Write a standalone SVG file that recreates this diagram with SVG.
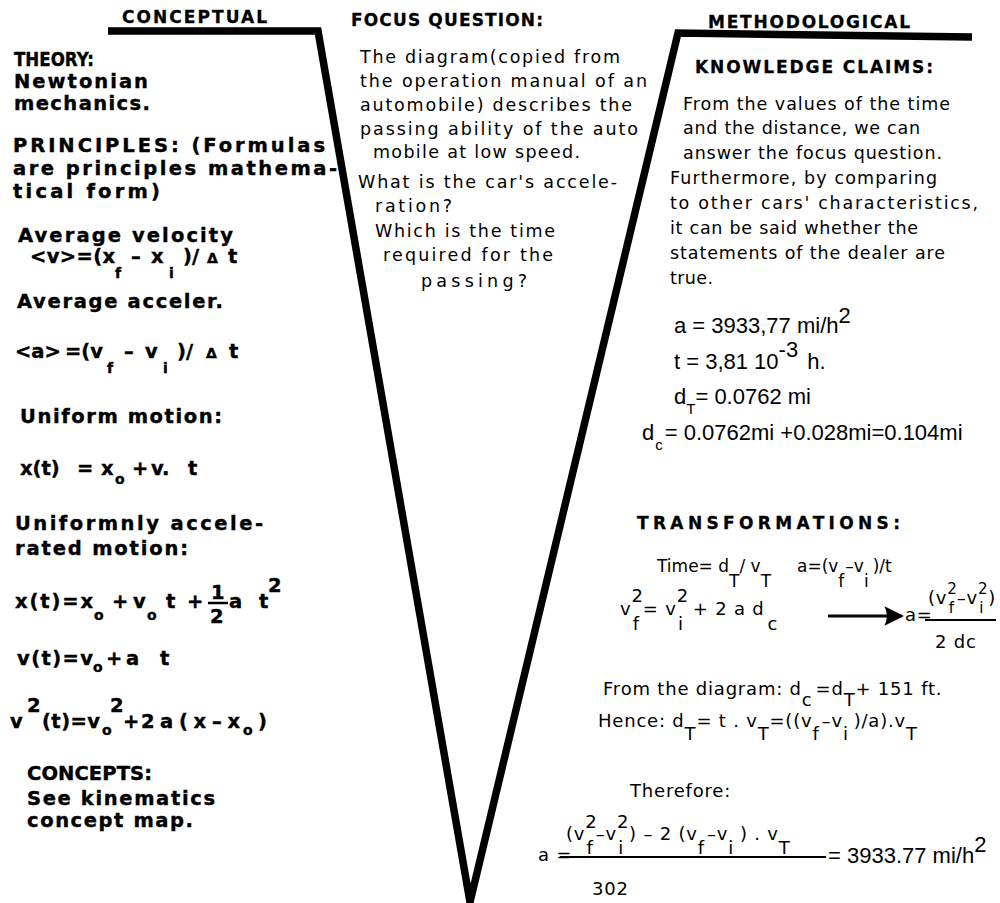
<svg xmlns="http://www.w3.org/2000/svg" width="1000" height="903" viewBox="0 0 1000 903">
<style>
.hd{font-family:"DejaVu Sans",sans-serif;font-weight:bold;font-size:17px;fill:#000;stroke:#000;stroke-width:0.3}
.b{font-family:"DejaVu Sans",sans-serif;font-weight:bold;font-size:19.5px;fill:#000;stroke:#000;stroke-width:0.4}
.bs{font-size:14px}
.r{font-family:"DejaVu Sans",sans-serif;font-size:17.5px;fill:#000}
.f{font-family:"Liberation Sans",Arial,sans-serif;font-size:22px;fill:#000}
.fs{font-size:15px}
.g{font-family:"DejaVu Sans",sans-serif;font-size:18px;letter-spacing:0.8px;fill:#000}
.gt{font-family:"DejaVu Sans",sans-serif;font-size:17px;fill:#000}
.gs{font-size:15px}
.vee{fill:none;stroke:#000;stroke-width:7.5;stroke-linejoin:miter;stroke-miterlimit:20}
.ln{stroke:#000;stroke-width:2}
</style>
<defs>
<marker id="ah" viewBox="0 0 10 10" refX="9" refY="5" markerWidth="9" markerHeight="6.5" markerUnits="strokeWidth" orient="auto">
<path d="M0,0 L10,5 L0,10 Q2.5,5 0,0 Z" fill="#000"/>
</marker>
</defs>

<g id="vee-frame">
<path class="vee" d="M108,31 L318,31 L470,902 L678,33 L972,37"/>
</g>

<g id="headers">
<text class="hd" x="122" y="23" textLength="145" lengthAdjust="spacing">CONCEPTUAL</text>
<text class="hd" x="351" y="26" textLength="192" lengthAdjust="spacing">FOCUS QUESTION:</text>
<text class="hd" x="708" y="28" textLength="202" lengthAdjust="spacing">METHODOLOGICAL</text>
</g>

<g id="conceptual">
<text class="b" x="14" y="66" textLength="80" lengthAdjust="spacingAndGlyphs">THEORY:</text>
<text class="b" x="14" y="88" textLength="134" lengthAdjust="spacing">Newtonian</text>
<text class="b" x="14" y="110" textLength="136" lengthAdjust="spacing">mechanics.</text>
<text class="b" x="13" y="152" textLength="312" lengthAdjust="spacing">PRINCIPLES: (Formulas</text>
<text class="b" x="13" y="175" textLength="324" lengthAdjust="spacing">are principles mathema-</text>
<text class="b" x="13" y="198" textLength="147" lengthAdjust="spacing">tical form)</text>
<text class="b" x="18" y="242" textLength="215" lengthAdjust="spacing">Average velocity</text>
<text class="b" y="263"><tspan x="30" textLength="85" lengthAdjust="spacing">&lt;v&gt;=(x</tspan><tspan class="bs" x="115" y="278">f</tspan><tspan x="131" y="263">–</tspan><tspan x="151">x</tspan><tspan class="bs" x="169" y="278">i</tspan><tspan x="183" y="263">)/</tspan><tspan class="bs" x="207">Δ</tspan><tspan x="228">t</tspan></text>
<text class="b" x="17" y="308" textLength="206" lengthAdjust="spacing">Average acceler.</text>
<text class="b" y="358"><tspan x="15">&lt;a&gt;</tspan><tspan x="65">=(v</tspan><tspan class="bs" x="107" y="373">f</tspan><tspan x="124" y="358">–</tspan><tspan x="145">v</tspan><tspan class="bs" x="163" y="373">i</tspan><tspan x="177" y="358">)/</tspan><tspan class="bs" x="206">Δ</tspan><tspan x="229">t</tspan></text>
<text class="b" x="20" y="423" textLength="202" lengthAdjust="spacing">Uniform motion:</text>
<text class="b" y="475"><tspan x="20">x(t)</tspan><tspan x="77">=</tspan><tspan x="101">x</tspan><tspan class="bs" x="115" y="484">o</tspan><tspan x="132" y="475">+</tspan><tspan x="151">v.</tspan><tspan x="188">t</tspan></text>
<text class="b" x="15" y="530" textLength="248" lengthAdjust="spacing">Uniformnly  accele-</text>
<text class="b" x="15" y="555" textLength="173" lengthAdjust="spacing">rated motion:</text>
<text class="b" y="608"><tspan x="15" textLength="78" lengthAdjust="spacing">x(t)=x</tspan><tspan class="bs" x="94" y="620">o</tspan><tspan x="112" y="608">+</tspan><tspan x="133">v</tspan><tspan class="bs" x="147" y="620">o</tspan><tspan x="166" y="608">t</tspan><tspan x="187">+</tspan><tspan x="229">a</tspan><tspan x="259">t</tspan><tspan x="268" y="592">2</tspan></text>
<text class="b" x="211" y="599">1</text>
<line x1="208" y1="603" x2="228" y2="603" stroke="#000" stroke-width="2.5"/>
<text class="b" x="210" y="623">2</text>
<text class="b" y="665"><tspan x="17" textLength="76" lengthAdjust="spacing">v(t)=v</tspan><tspan class="bs" x="93" y="672">o</tspan><tspan x="106" y="665">+</tspan><tspan x="126">a</tspan><tspan x="160">t</tspan></text>
<text class="b" y="728"><tspan x="10">v</tspan><tspan x="27" y="712">2</tspan><tspan x="42" y="728" textLength="58" lengthAdjust="spacing">(t)=v</tspan><tspan class="bs" x="102" y="735">o</tspan><tspan x="110" y="712">2</tspan><tspan x="123" y="728">+</tspan><tspan x="141">2</tspan><tspan x="160" textLength="80" lengthAdjust="spacing">a(x–x</tspan><tspan class="bs" x="243" y="735">o</tspan><tspan x="258" y="728">)</tspan></text>
<text class="b" x="27" y="780" textLength="125" lengthAdjust="spacing">CONCEPTS:</text>
<text class="b" x="27" y="805" textLength="188" lengthAdjust="spacing">See kinematics</text>
<text class="b" x="27" y="827" textLength="166" lengthAdjust="spacing">concept map.</text>
</g>

<g id="focus-question">
<text class="r" x="360" y="63" textLength="260" lengthAdjust="spacing">The diagram(copied from</text>
<text class="r" x="360" y="87" textLength="287" lengthAdjust="spacing">the operation manual of an</text>
<text class="r" x="360" y="111" textLength="272" lengthAdjust="spacing">automobile) describes the</text>
<text class="r" x="360" y="135" textLength="278" lengthAdjust="spacing">passing ability of the auto</text>
<text class="r" x="373" y="158" textLength="207" lengthAdjust="spacing">mobile at low speed.</text>
<text class="r" x="358" y="188" textLength="259" lengthAdjust="spacing">What is the car's  accele-</text>
<text class="r" x="375" y="212" textLength="77" lengthAdjust="spacing">ration?</text>
<text class="r" x="375" y="237" textLength="180" lengthAdjust="spacing">Which is the time</text>
<text class="r" x="383" y="261" textLength="170" lengthAdjust="spacing">required for the</text>
<text class="r" x="421" y="287" textLength="106" lengthAdjust="spacing">passing?</text>
</g>

<g id="knowledge-claims">
<text class="hd" x="695" y="73" textLength="238" lengthAdjust="spacing">KNOWLEDGE CLAIMS:</text>
<text class="r" x="683" y="110" textLength="267" lengthAdjust="spacing">From the values of the time</text>
<text class="r" x="683" y="134" textLength="237" lengthAdjust="spacing">and the distance, we can</text>
<text class="r" x="683" y="159" textLength="259" lengthAdjust="spacing">answer the focus question.</text>
<text class="r" x="670" y="184" textLength="267" lengthAdjust="spacing">Furthermore, by comparing</text>
<text class="r" x="670" y="209" textLength="308" lengthAdjust="spacing">to other cars' characteristics,</text>
<text class="r" x="670" y="234" textLength="248" lengthAdjust="spacing">it can be said whether the</text>
<text class="r" x="670" y="259" textLength="275" lengthAdjust="spacing">statements of the dealer are</text>
<text class="r" x="670" y="284" textLength="43" lengthAdjust="spacing">true.</text>
<text class="f" x="674" y="333">a = 3933,77 mi/h<tspan dy="-10">2</tspan></text>
<text class="f" x="674" y="369">t = 3,81  10<tspan dy="-12">-3</tspan><tspan dx="9" dy="12">h.</tspan></text>
<text class="f" x="674" y="404">d<tspan class="fs" dy="10">T</tspan><tspan dy="-10">= 0.0762 mi</tspan></text>
<text class="f" x="642" y="440">d<tspan class="fs" dx="1" dy="10">c</tspan><tspan dx="2" dy="-10">= 0.0762mi +0.028mi=0.104mi</tspan></text>
</g>

<g id="transformations">
<text class="hd" x="637" y="529" textLength="263" lengthAdjust="spacing">TRANSFORMATIONS:</text>
<text class="gt" x="657" y="572">Time= d<tspan dy="15">T</tspan><tspan dy="-15">/ v</tspan><tspan dy="15">T</tspan></text>
<text class="gt" x="797" y="572">a=(v<tspan dy="15">f</tspan><tspan dx="1" dy="-15">–v</tspan><tspan dy="15">i</tspan><tspan dx="4" dy="-15">)/t</tspan></text>
<text class="g" x="620" y="615">v<tspan dy="-13">2</tspan><tspan dx="-11" dy="28">f</tspan><tspan dx="3" dy="-15">= v</tspan><tspan dy="-13">2</tspan><tspan dx="-11" dy="28">i</tspan><tspan dx="9" dy="-15">+ 2 a d</tspan><tspan dx="3" dy="15">c</tspan></text>
<text class="g" x="905" y="621">a=</text>
<text class="g" x="928" y="604">(v<tspan class="gs" dy="-10">2</tspan><tspan class="gs" dx="-9" dy="19">f</tspan><tspan dx="2" dy="-9">–v</tspan><tspan class="gs" dy="-10">2</tspan><tspan class="gs" dx="-9" dy="19">i</tspan><tspan dx="4" dy="-9">)</tspan></text>
<line class="ln" x1="925" y1="620" x2="996" y2="620"/>
<text class="g" x="935" y="648">2 dc</text>
<text class="g" x="603" y="695">From the diagram:  d<tspan dy="11">c</tspan><tspan dx="3" dy="-11">=d</tspan><tspan dy="11">T</tspan><tspan dy="-11">+ 151 ft.</tspan></text>
<text class="g" x="598" y="727">Hence:  d<tspan dy="13">T</tspan><tspan dy="-13">=  t . v</tspan><tspan dy="13">T</tspan><tspan dy="-13">=((v</tspan><tspan dy="13">f</tspan><tspan dx="2" dy="-13">–v</tspan><tspan dy="13">i</tspan><tspan dx="5" dy="-13">)/a).v</tspan><tspan dy="13">T</tspan></text>
<text class="g" x="630" y="797">Therefore:</text>
<text class="g" x="538" y="861">a =</text>
<text class="g" x="566" y="840">(v<tspan dy="-12">2</tspan><tspan dx="-11" dy="26">f</tspan><tspan dx="2" dy="-14">–v</tspan><tspan dy="-12">2</tspan><tspan dx="-11" dy="26">i</tspan><tspan dx="5" dy="-14">) – 2 (v</tspan><tspan dy="14">f</tspan><tspan dx="2" dy="-14">–v</tspan><tspan dy="14">i</tspan><tspan dx="6" dy="-14">) . v</tspan><tspan dy="14">T</tspan></text>
<line class="ln" x1="560" y1="857" x2="826" y2="857"/>
<text class="f" x="828" y="863">= 3933.77 mi/h<tspan dy="-11">2</tspan></text>
<text class="g" x="592" y="895">302</text>
</g>

<g id="connectors">
<line x1="828" y1="616" x2="902" y2="616" stroke="#000" stroke-width="3" marker-end="url(#ah)"/>
</g>
</svg>
